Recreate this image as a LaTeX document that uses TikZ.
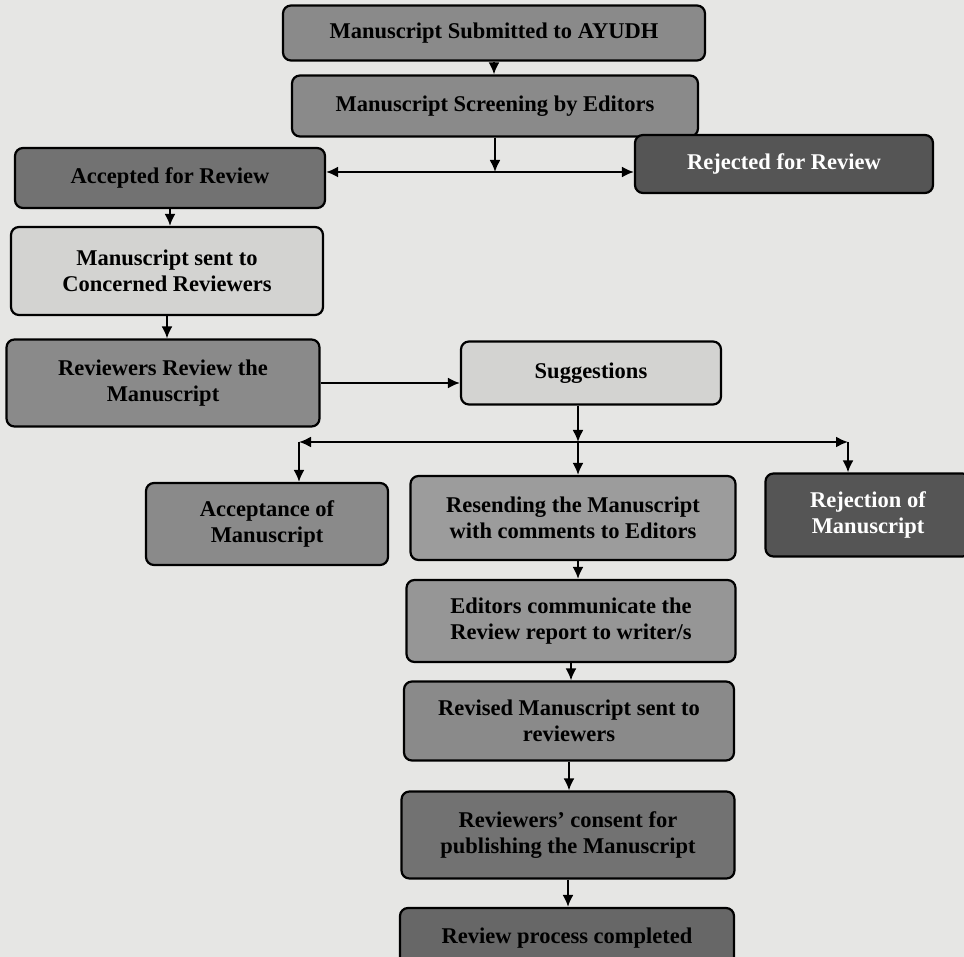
\documentclass[tikz,border=0pt]{standalone}
\usepackage{fontspec}
\setmainfont{Liberation Serif}
\usepackage{xcolor}
\usepackage{tikz}
\usetikzlibrary{arrows.meta,positioning,calc}

\definecolor{paper}{HTML}{E6E6E4}
\definecolor{midgrey}{HTML}{8A8A8A}
\definecolor{darkgrey}{HTML}{727272}
\definecolor{deepgrey}{HTML}{555555}
\definecolor{lightgrey}{HTML}{D3D3D1}

\begin{document}
\begin{tikzpicture}[
    x=1pt, y=-1pt,
    font=\fontsize{22.5}{26}\selectfont\bfseries,
    stage/.style={draw, line width=2.2pt, rounded corners=8pt, align=center, inner sep=2pt},
    arr/.style={-{Latex[length=12pt,width=11pt]}, line width=2pt}
]
\useasboundingbox (0,0) rectangle (964,957);
\fill[paper] (0,0) rectangle (964,957);

\node[stage, fill=midgrey, minimum width=422pt, minimum height=55pt] (submit) at (494,33) {Manuscript Submitted to AYUDH};
\node[stage, fill=midgrey, minimum width=406pt, minimum height=61pt] (screen) at (495,106) {Manuscript Screening by Editors};
\node[stage, fill=darkgrey, minimum width=310pt, minimum height=60pt] (accepted) at (170,178) {Accepted for Review};
\node[stage, fill=deepgrey, text=white, minimum width=298pt, minimum height=58pt] (rejected) at (784,164) {Rejected for Review};

\node[stage, fill=lightgrey, minimum width=312pt, minimum height=88pt] (sent) at (167,271) {Manuscript sent to\\Concerned Reviewers};
\node[stage, fill=midgrey, minimum width=313pt, minimum height=87pt] (review) at (163,383) {Reviewers Review the\\Manuscript};
\node[stage, fill=lightgrey, minimum width=260pt, minimum height=63pt] (suggest) at (591,373) {Suggestions};

\node[stage, fill=midgrey, minimum width=242pt, minimum height=82pt] (accept) at (267,524) {Acceptance of\\Manuscript};
\node[stage, fill=midgrey!85!white, minimum width=325pt, minimum height=84pt] (resend) at (573,518) {Resending the Manuscript\\with comments to Editors};
\node[stage, fill=deepgrey, text=white, minimum width=205pt, minimum height=83pt] (reject) at (868,515) {Rejection of\\Manuscript};

\node[stage, fill=midgrey!90!white, minimum width=329pt, minimum height=82pt] (inform) at (571,621) {Editors communicate the\\Review report to writer/s};
\node[stage, fill=midgrey, minimum width=330pt, minimum height=79pt] (revised) at (569,721) {Revised Manuscript sent to\\reviewers};
\node[stage, fill=darkgrey, minimum width=333pt, minimum height=87pt] (consent) at (568,835) {Reviewers' consent for\\publishing the Manuscript};
\node[stage, fill=darkgrey!90!black, minimum width=334pt, minimum height=60pt] (done) at (567,938) {Review process completed};

% split points
\coordinate (split1) at (495,172);
\coordinate (split2) at (578,442);
\coordinate (left2) at (299,442);
\coordinate (right2) at (848,442);

\draw[arr] (submit.south) -- (submit.south |- screen.north);
\draw[arr] (screen) -- (split1);
\draw[arr] (split1) -- (accepted.east |- split1);
\draw[arr] (split1) -- (rejected.west |- split1);
\draw[arr] (accepted.south) -- (accepted.south |- sent.north);
\draw[arr] (sent.south) -- (sent.south |- review.north);
\draw[arr] (review.east) -- (review.east -| suggest.west);

\draw[arr] (suggest.south -| split2) -- (split2);
\draw[arr] (split2) -- (left2);
\draw[arr] (split2) -- (right2);
\draw[arr] (left2) -- (accept.north -| left2);
\draw[arr] (split2) -- (resend.north -| split2);
\draw[arr] (right2) -- (reject.north -| right2);

\draw[arr] (resend.south -| split2) -- (inform.north -| split2);
\draw[arr] (inform.south) -- (inform.south |- revised.north);
\draw[arr] (revised.south) -- (revised.south |- consent.north);
\draw[arr] (consent.south) -- (consent.south |- done.north);
\end{tikzpicture}
\end{document}
